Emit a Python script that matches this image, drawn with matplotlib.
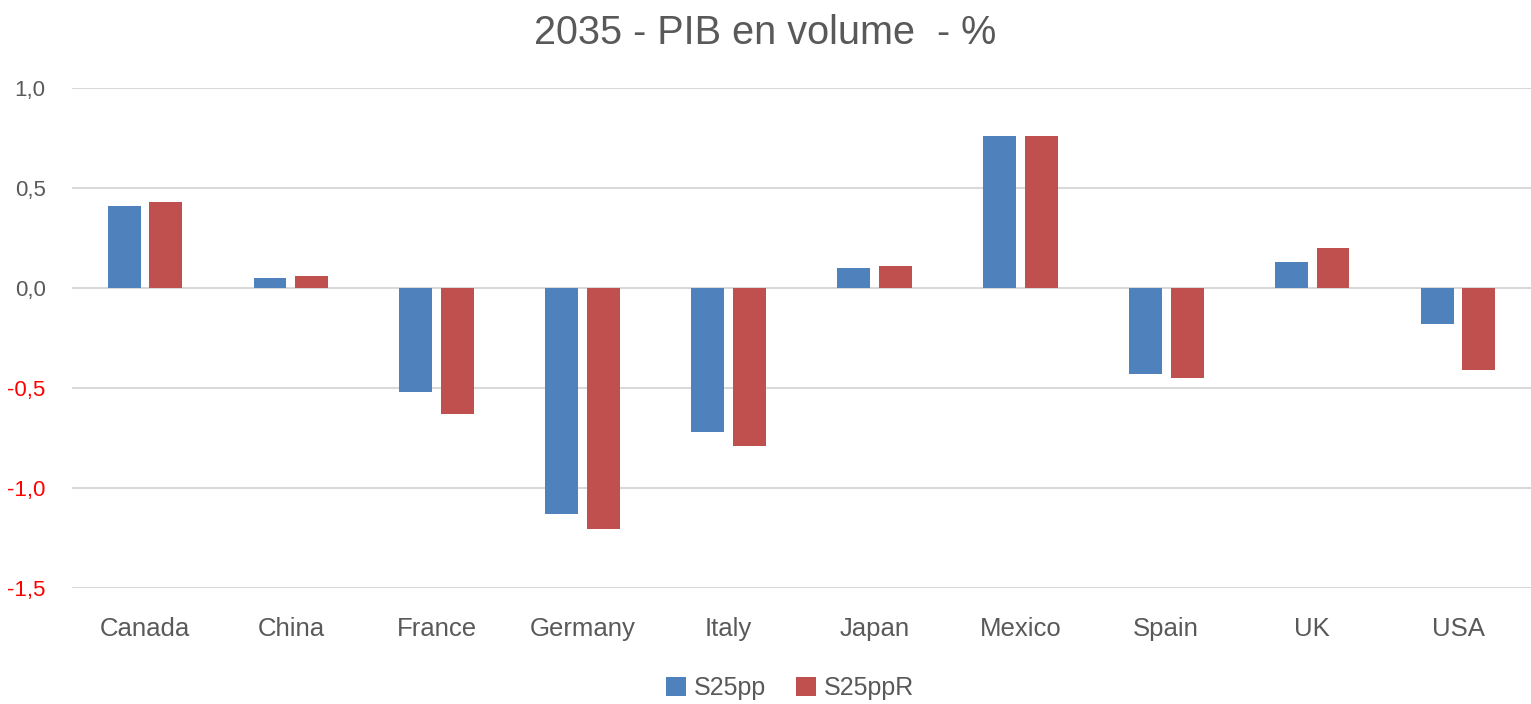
import matplotlib
matplotlib.use("Agg")
import matplotlib.pyplot as plt
import numpy as np
from matplotlib import font_manager

categories = ["Canada", "China", "France", "Germany", "Italy", "Japan", "Mexico", "Spain", "UK", "USA"]
s25pp = [0.41, 0.05, -0.52, -1.13, -0.72, 0.10, 0.76, -0.43, 0.13, -0.18]
s25ppR = [0.43, 0.06, -0.63, -1.205, -0.79, 0.11, 0.76, -0.45, 0.20, -0.41]
series_names = ["S25pp", "S25ppR"]
yticks = [1.0, 0.5, 0.0, -0.5, -1.0, -1.5]

names = {f.name for f in font_manager.fontManager.ttflist}
fam = "Liberation Sans Narrow" if "Liberation Sans Narrow" in names else "Liberation Sans"
plt.rcParams['font.family'] = [fam, 'DejaVu Sans']

blue = "#4F81BD"
red = "#C0504D"
gray = "#595959"

fig = plt.figure(figsize=(15.31, 7.04), dpi=100)
ax = fig.add_axes([72/1531, 116/704, 1 - 72/1531, 500/704])

x = np.arange(len(categories))
w = 0.225
off = 0.143
ax.bar(x - off, s25pp, w, color=blue, label=series_names[0], zorder=3)
ax.bar(x + off, s25ppR, w, color=red, label=series_names[1], zorder=3)

ax.set_xlim(-0.5, len(categories) - 0.5)
ax.set_ylim(-1.5, 1.0)
ax.set_yticks(yticks)
ax.set_yticklabels([f"{v:.1f}".replace(".", ",") for v in yticks])
for lab, v in zip(ax.get_yticklabels(), yticks):
    lab.set_color("#FF0000" if v < 0 else gray)
ax.set_xticks(x)
ax.set_xticklabels(categories, color=gray)
ax.tick_params(axis="y", length=0, labelsize=16, pad=19)
ax.tick_params(axis="x", length=0, labelsize=18.5, pad=21)
ax.grid(axis="y", color="#D9D9D9", linewidth=1.5, zorder=0)
ax.set_axisbelow(True)
for s in ax.spines.values():
    s.set_visible(False)

fig.text(0.5, 1 - 33/704, "2035 - PIB en volume  - %", ha="center", va="center",
         fontsize=28.5, color=gray)

leg = fig.legend(loc="center", bbox_to_anchor=(790/1531, 1 - 688/704), ncol=2,
                 frameon=False, fontsize=18, handlelength=0.8, handleheight=0.8,
                 columnspacing=1.2, handletextpad=0.3)
for t in leg.get_texts():
    t.set_color(gray)

fig.savefig("out.png", dpi=100)
